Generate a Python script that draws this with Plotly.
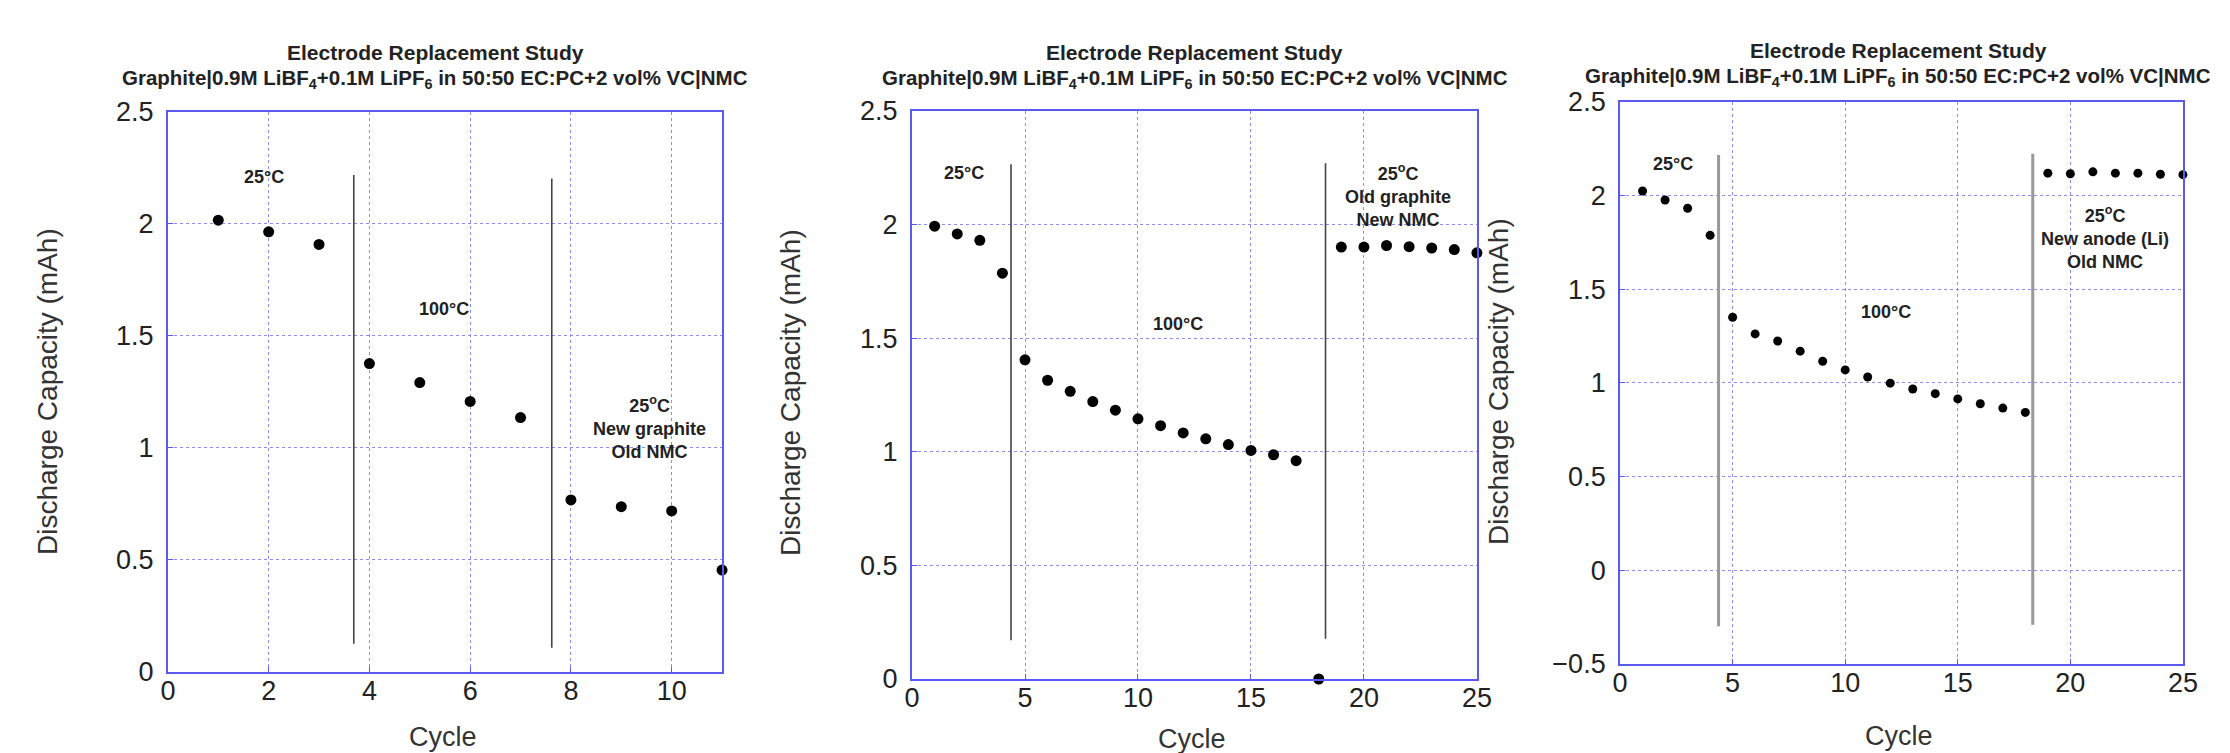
import plotly.graph_objects as go

W, H = 2230, 753

# ---------------- data ----------------
p1_cycle = [1, 2, 3, 4, 5, 6, 7, 8, 9, 10, 11]
p1_cap = [2.017, 1.965, 1.909, 1.377, 1.292, 1.208, 1.136, 0.768, 0.738, 0.719, 0.455]

p2_cycle = list(range(1, 26))
p2_cap = [1.993, 1.959, 1.931, 1.786, 1.405, 1.315, 1.266, 1.221, 1.183, 1.145,
          1.115, 1.083, 1.057, 1.032, 1.006, 0.987, 0.961, 0.0, 1.901, 1.901,
          1.908, 1.903, 1.897, 1.890, 1.876]

p3_cycle = list(range(1, 26))
p3_cap = [2.025, 1.977, 1.933, 1.788, 1.351, 1.262, 1.224, 1.170, 1.116, 1.070,
          1.032, 0.999, 0.968, 0.943, 0.915, 0.889, 0.866, 0.843, 2.120, 2.117,
          2.127, 2.120, 2.120, 2.114, 2.112]

# divider lines (x position, y start, y end)
p1_div_x = [3.69, 7.62]
p1_div_y0 = [0.126, 0.108]
p1_div_y1 = [2.219, 2.203]
p2_div_x = [4.38, 18.30]
p2_div_y0 = [0.171, 0.177]
p2_div_y1 = [2.266, 2.270]
p3_div_x = [4.375, 18.33]
p3_div_y0 = [-0.298, -0.290]
p3_div_y1 = [2.217, 2.224]

title1 = "Electrode Replacement Study"
title2 = "Graphite|0.9M LiBF<sub>4</sub>+0.1M LiPF<sub>6</sub> in 50:50 EC:PC+2 vol% VC|NMC"
ytitle = "Discharge Capacity (mAh)"
xtitle = "Cycle"

# region labels: (text, x, y)
p1_labels = [("25°C", 1.90, 2.21), ("100°C", 5.49, 1.62),
             ("25<sup>o</sup>C<br>New graphite<br>Old NMC", 9.56, 1.09)]
p2_labels = [("25°C", 2.30, 2.227), ("100°C", 11.75, 1.562),
             ("25<sup>o</sup>C<br>Old graphite<br>New NMC", 21.52, 2.13)]
p3_labels = [("25°C", 2.34, 2.17), ("100°C", 11.79, 1.377),
             ("25<sup>o</sup>C<br>New anode (Li)<br>Old NMC", 21.56, 1.775)]

# ---------------- layout geometry ----------------
panels = [
    dict(cycle=p1_cycle, cap=p1_cap, dx=p1_div_x, dy0=p1_div_y0, dy1=p1_div_y1,
         labels=p1_labels, xr=[0, 11], yr=[0, 2.5], xdt=2, ydt=0.5,
         xd=[0.0717, 0.3202], yd=[0.1182, 0.8619], msize=11,
         lcol="#444444", lw=1.6,
         t_x=427, t1_y=44.6, t2_y=70.8, yt=(39, 384), xt=(435, 729)),
    dict(cycle=p2_cycle, cap=p2_cap, dx=p2_div_x, dy0=p2_div_y0, dy1=p2_div_y1,
         labels=p2_labels, xr=[0, 25], yr=[0, 2.5], xdt=5, ydt=0.5,
         xd=[0.4054, 0.6587], yd=[0.1089, 0.8632], msize=11,
         lcol="#444444", lw=1.6,
         t_x=1186.6, t1_y=44.6, t2_y=70.8, yt=(782, 385), xt=(1184, 731)),
    dict(cycle=p3_cycle, cap=p3_cap, dx=p3_div_x, dy0=p3_div_y0, dy1=p3_div_y1,
         labels=p3_labels, xr=[0, 25], yr=[-0.5, 2.5], xdt=5, ydt=0.5,
         xd=[0.7229, 0.9753], yd=[0.1288, 0.8752], msize=9,
         lcol="#999999", lw=3,
         t_x=1890, t1_y=43, t2_y=69.4, yt=(1490, 374), xt=(1890.5, 728)),
]

FONT = "Liberation Sans, Arial, sans-serif"
fig = go.Figure()
annotations = []
layout = dict(width=W, height=H, margin=dict(l=0, r=0, t=0, b=0),
              paper_bgcolor="white", plot_bgcolor="white", showlegend=False,
              font=dict(family=FONT, color="#222222"))

for i, p in enumerate(panels, start=1):
    xa = "x" if i == 1 else f"x{i}"
    ya = "y" if i == 1 else f"y{i}"
    # divider lines
    for k in range(len(p["dx"])):
        fig.add_trace(go.Scatter(x=[p["dx"][k], p["dx"][k]], y=[p["dy0"][k], p["dy1"][k]],
                                 mode="lines", line=dict(color=p["lcol"], width=p["lw"]),
                                 xaxis=xa, yaxis=ya, hoverinfo="skip"))
    fig.add_trace(go.Scatter(x=p["cycle"], y=p["cap"], mode="markers",
                             marker=dict(color="black", size=p["msize"]),
                             xaxis=xa, yaxis=ya, cliponaxis=False))
    axcommon = dict(showline=True, mirror=True, linecolor="#5a5af0", linewidth=2,
                    showgrid=True, gridcolor="#8c8cf5", gridwidth=1.3, griddash="dot",
                    ticks="inside", ticklen=5, tickcolor="#5a5af0", tickwidth=1.3,
                    zeroline=False, tickfont=dict(size=27, color="#222222", family=FONT),
                    automargin=False)
    layout["xaxis" if i == 1 else f"xaxis{i}"] = dict(
        axcommon, domain=p["xd"], range=p["xr"], dtick=p["xdt"], tick0=0,
        anchor=ya, ticklabelstandoff=-6)
    layout["yaxis" if i == 1 else f"yaxis{i}"] = dict(
        axcommon, domain=p["yd"], range=p["yr"], dtick=p["ydt"], tick0=0,
        anchor=xa, ticklabelstandoff=7)
    # region labels
    for txt, lx, ly in p["labels"]:
        annotations.append(dict(text=f"<b>{txt}</b>", x=lx, y=ly, xref=xa, yref=ya,
                                showarrow=False, font=dict(size=18, color="#222222", family=FONT),
                                xanchor="center", yanchor="middle"))
    # titles
    annotations.append(dict(text=f"<b>{title1}</b>", x=p["t_x"] / W, y=1 - p["t1_y"] / H,
                            xref="paper", yref="paper", showarrow=False,
                            font=dict(size=21, color="#222222", family=FONT),
                            xanchor="center", yanchor="middle"))
    annotations.append(dict(text=f"<b>{title2}</b>", x=p["t_x"] / W, y=1 - p["t2_y"] / H,
                            xref="paper", yref="paper", showarrow=False,
                            font=dict(size=20.5, color="#222222", family=FONT),
                            xanchor="center", yanchor="middle"))
    annotations.append(dict(text=ytitle, x=p["yt"][0] / W, y=1 - p["yt"][1] / H,
                            xref="paper", yref="paper", showarrow=False, textangle=-90,
                            font=dict(size=28, color="#333333", family=FONT),
                            xanchor="center", yanchor="middle"))
    annotations.append(dict(text=xtitle, x=p["xt"][0] / W, y=1 - p["xt"][1] / H,
                            xref="paper", yref="paper", showarrow=False,
                            font=dict(size=27, color="#333333", family=FONT),
                            xanchor="center", yanchor="middle"))

layout["annotations"] = annotations
fig.update_layout(**layout)
fig.write_html("out.html")
